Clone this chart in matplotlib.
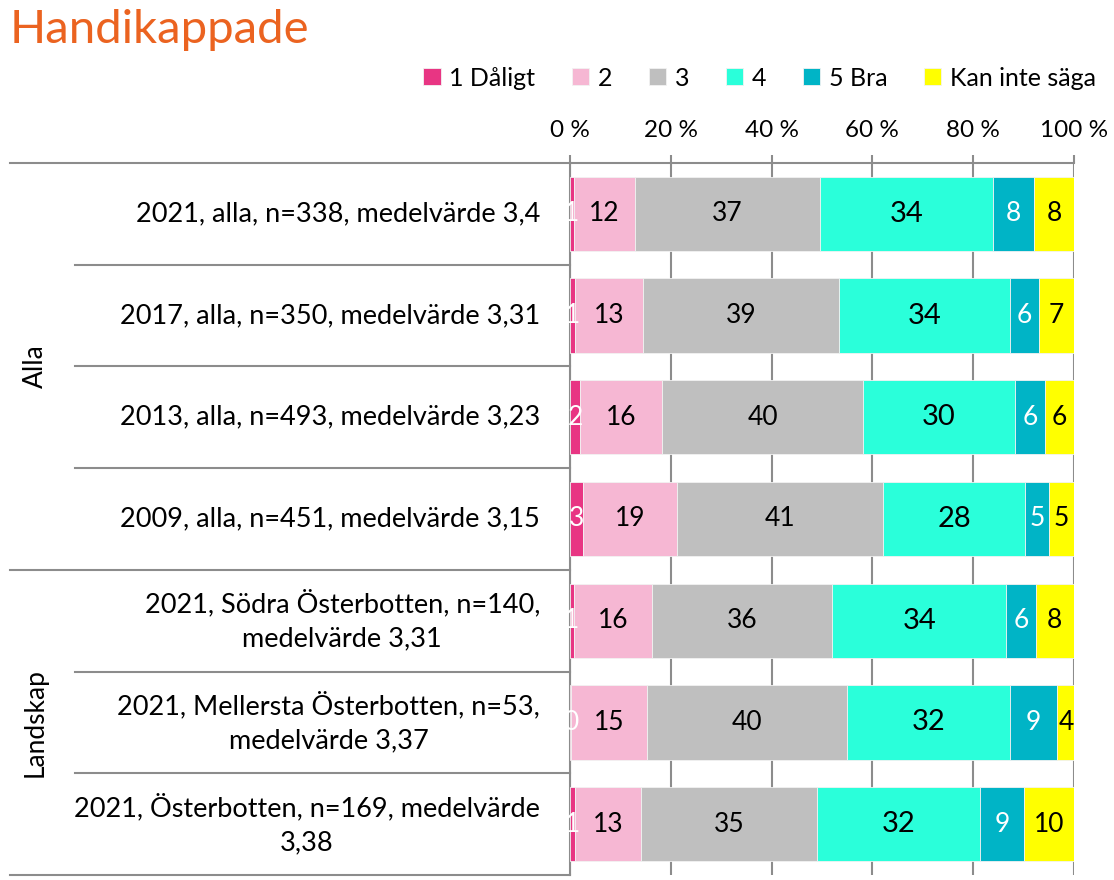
import numpy as np
import matplotlib.pyplot as plt
import matplotlib.transforms as mtransforms

plt.rcParams['font.family'] = ['Lato', 'DejaVu Sans']

# row labels, top to bottom
categories = [
    "2021, alla, n=338, medelvärde 3,4",
    "2017, alla, n=350, medelvärde 3,31",
    "2013, alla, n=493, medelvärde 3,23",
    "2009, alla, n=451, medelvärde 3,15",
    "2021, Södra Österbotten, n=140,\nmedelvärde 3,31",
    "2021, Mellersta Österbotten, n=53,\nmedelvärde 3,37",
    "2021, Österbotten, n=169, medelvärde\n3,38",
]
groups = ["Alla", "Landskap"]
group_rows = [(0, 3), (4, 6)]

series_names = ["1 Dåligt", "2", "3", "4", "5 Bra", "Kan inte säga"]
# percent shares (widths)
s1 = [0.7, 1.0, 2.0, 2.6, 0.7, 0.2, 1.0]
s2 = [12.1, 13.5, 16.3, 18.6, 15.6, 15.1, 13.1]
s3 = [36.9, 38.9, 39.8, 40.9, 35.7, 39.7, 34.9]
s4 = [34.3, 33.9, 30.2, 28.2, 34.6, 32.3, 32.3]
s5 = [8.1, 5.8, 5.9, 4.7, 5.8, 9.3, 8.8]
s6 = [7.9, 6.9, 5.8, 5.0, 7.6, 3.6, 9.9]
# labels printed on the bars
lab1 = [1, 1, 2, 3, 1, 0, 1]
lab2 = [12, 13, 16, 19, 16, 15, 13]
lab3 = [37, 39, 40, 41, 36, 40, 35]
lab4 = [34, 34, 30, 28, 34, 32, 32]
lab5 = [8, 6, 6, 5, 6, 9, 9]
lab6 = [8, 7, 6, 5, 8, 4, 10]

colors = ['#E83583', '#F6B7D3', '#BFBFBF', '#2AFFDA', '#00B4C6', '#FFFF00']
text_colors = ['white', 'black', 'black', 'black', 'white', 'black']
text_sizes = [19, 19, 19, 21, 19, 19]

values = [s1, s2, s3, s4, s5, s6]
labels = [lab1, lab2, lab3, lab4, lab5, lab6]

fig = plt.figure(figsize=(11.14, 8.8), dpi=100)
ax = fig.add_axes([570 / 1114, 1 - 875 / 880, 504 / 1114, 712 / 880])

y = np.arange(len(categories))
left = np.zeros(len(categories))
for vals, labs, col, tc, ts, name in zip(values, labels, colors, text_colors, text_sizes, series_names):
    vals = np.array(vals)
    ax.barh(y, vals, left=left, height=0.73, color=col, edgecolor='#F2F2F2',
            linewidth=0.6, label=name, zorder=3)
    for yi, l, v, lb in zip(y, left, vals, labs):
        ax.text(l + v / 2, yi, str(lb), ha='center', va='center', color=tc,
                fontsize=ts, zorder=4)
    left += vals

ax.set_xlim(0, 100)
ax.set_ylim(len(categories) - 0.5, -0.5)
ax.xaxis.tick_top()
ax.set_xticks([0, 20, 40, 60, 80, 100])
ax.set_xticklabels(['0 %', '20 %', '40 %', '60 %', '80 %', '100 %'], fontsize=17.5)
ax.tick_params(axis='x', length=6, color='#8C8C8C', width=1.5, pad=10)
ax.set_yticks([])
ax.grid(axis='x', color='#8C8C8C', linewidth=1.5, zorder=0)
for side in ['right', 'bottom']:
    ax.spines[side].set_visible(False)
for side in ['left', 'top']:
    ax.spines[side].set_color('#8C8C8C')
    ax.spines[side].set_linewidth(1.5)

# separator lines and labels on the left
trans = mtransforms.blended_transform_factory(ax.transAxes, ax.transData)
x_inner = (75 - 570) / 504
x_outer = (10 - 570) / 504
bounds = {-0.5: x_outer, 3.5: x_outer, 6.5: x_outer}
for b in np.arange(-0.5, len(categories), 1.0):
    x0 = bounds.get(b, x_inner)
    ax.plot([x0, 0], [b, b], color='#8C8C8C', linewidth=1.5, transform=trans,
            clip_on=False, zorder=5)

for yi, cat in zip(y, categories):
    ax.text((540 - 570) / 504, yi, cat, ha='right', va='center', multialignment='center',
            fontsize=19.5, transform=trans, linespacing=1.45)

for g, (a, b) in zip(groups, group_rows):
    ax.text((35 - 570) / 504, (a + b) / 2, g, ha='center', va='center', rotation=90,
            fontsize=19, transform=trans)

fig.text(10 / 1114, 1 - 30 / 880, "Handikappade", color='#EB6320', fontsize=34,
         ha='left', va='center')

fig.legend(loc='center right', bbox_to_anchor=(1106 / 1114, 1 - 78 / 880), ncol=6,
           frameon=False, fontsize=18, handlelength=0.7, handleheight=0.7,
           handletextpad=0.35, columnspacing=1.45, borderaxespad=0)

fig.savefig('out.png', dpi=100)
